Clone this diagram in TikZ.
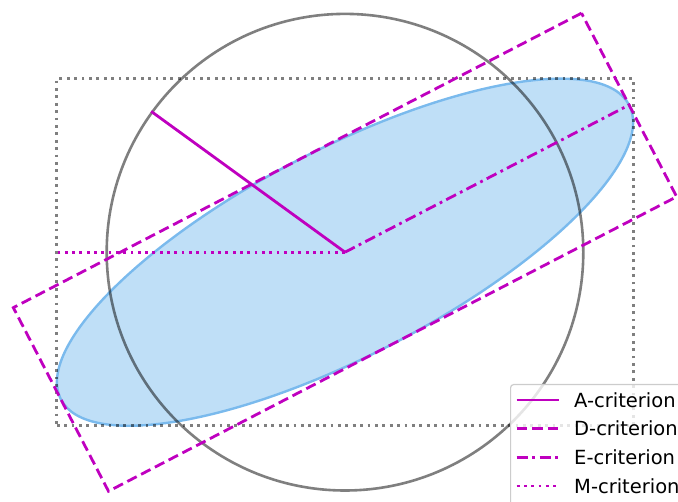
\documentclass[tikz,border=0pt]{standalone}
\usepackage{fontspec}
\setmainfont{DejaVu Sans}
\usetikzlibrary{positioning,calc,shapes.geometric}
\definecolor{critcol}{RGB}{191,0,191}
\definecolor{ellfill}{RGB}{191,223,247}
\definecolor{elledge}{RGB}{122,186,237}

\begin{document}
\begin{tikzpicture}[
    x=1pt, y=-1pt,
    crit/.style={draw=critcol, line width=2.8pt},
    acrit/.style={crit},
    dcrit/.style={crit, dash pattern=on 10.5pt off 5pt},
    ecrit/.style={crit, dash pattern=on 11pt off 4.5pt on 2.8pt off 4.5pt},
    mcrit/.style={crit, dash pattern=on 2.8pt off 4.5pt},
    greyline/.style={draw=black, draw opacity=0.5, line width=2.6pt},
    legtext/.style={anchor=base west, inner sep=0pt, font=\fontsize{19.5}{23}\selectfont}
]
\useasboundingbox (0,0) rectangle (678,502);
\clip (0,0) rectangle (678,502);
\coordinate (c) at (345,252.2);
% ellipse and its boxes
\node[ellipse, draw=elledge, fill=ellfill, line width=2.4pt, inner sep=0pt,
      minimum width=640pt, minimum height=206.8pt, rotate=27.4] (ell) at (c) {};
\node[draw=black, draw opacity=0.5, line width=2.8pt, dash pattern=on 2.8pt off 4.6pt,
      inner sep=0pt, minimum width=576.6pt, minimum height=347pt] (bbox) at (c) {};
\node[circle, greyline, inner sep=0pt, minimum size=476.6pt] (circ) at (c) {};
\node[dcrit, inner sep=0pt, minimum width=640pt, minimum height=206.8pt, rotate=27.4] (dbox) at (c) {};
% criteria
\draw[acrit] (c) -- (circ.144.2);
\draw[ecrit] (c) -- (ell.east);
\draw[mcrit] (c) -- (bbox.west);
% legend
\node[draw=black!20, line width=1.2pt, rounded corners=3pt, fill=white, fill opacity=0.8,
      anchor=north west, minimum width=200pt, minimum height=140pt] (legend) at (510,384) {};
\node[legtext] (la) at (574,407.3) {A-criterion};
\node[legtext] (ld) at (574,436) {D-criterion};
\node[legtext] (le) at (574,464.7) {E-criterion};
\node[legtext] (lm) at (574,493.4) {M-criterion};
\draw[acrit] ([xshift=-57.3pt,yshift=7.3pt]la.base west) -- ([xshift=-14.7pt,yshift=7.3pt]la.base west);
\draw[dcrit] ([xshift=-57.3pt,yshift=7.3pt]ld.base west) -- ([xshift=-14.7pt,yshift=7.3pt]ld.base west);
\draw[ecrit] ([xshift=-57.3pt,yshift=7.3pt]le.base west) -- ([xshift=-14.7pt,yshift=7.3pt]le.base west);
\draw[mcrit] ([xshift=-57.3pt,yshift=7.3pt]lm.base west) -- ([xshift=-14.7pt,yshift=7.3pt]lm.base west);
\end{tikzpicture}
\end{document}
